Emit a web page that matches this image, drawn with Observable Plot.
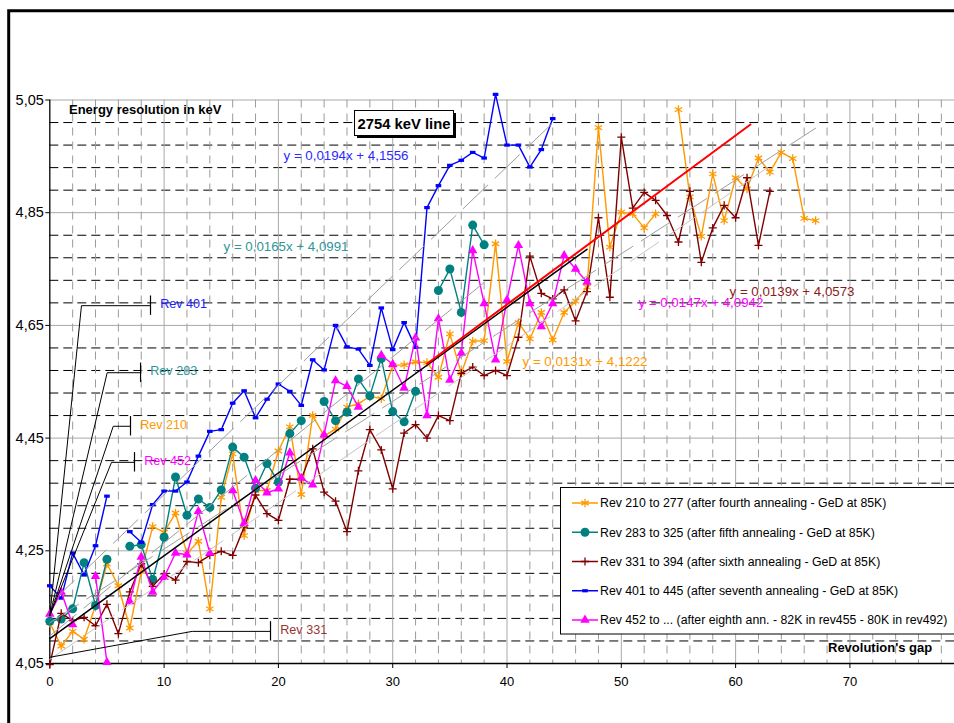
<!DOCTYPE html>
<html>
<head>
<meta charset="utf-8">
<script src="https://cdn.jsdelivr.net/npm/d3@7"></script>
<script src="https://cdn.jsdelivr.net/npm/@observablehq/plot@0.6"></script>
<style>
  html, body { margin: 0; padding: 0; background: #fff; overflow: hidden; }
  #chart { width: 954px; height: 723px; }
</style>
</head>
<body>
<div id="chart"></div>
<script>
// Energy resolution (keV) of the 2754 keV line versus revolution's gap,
// one series per annealing period (index in each array = revolution's gap, null = no measurement).

const seriesNames = [
  "Rev 210 to 277 (after fourth annealing - GeD at 85K)",
  "Rev 283 to 325 (after fifth annealing - GeD at 85K)",
  "Rev 331 to 394 (after sixth annealing - GeD at 85K)",
  "Rev 401 to 445 (after seventh annealing - GeD at 85K)",
  "Rev 452 to ... (after eighth ann. - 82K in rev455 - 80K in rev492)"
];

const rev210 = [
  4.122, 4.081, 4.107, 4.093, 4.153, 4.227, 4.188, 4.113, 4.213, 4.293,
  4.283, 4.317, 4.245, 4.267, 4.147, 4.345, 4.422, 4.277, 4.357, 4.357,
  4.427, 4.470, 4.350, 4.490, 4.454, 4.466, 4.505, 4.511, 4.524, 4.520,
  4.579, 4.580, 4.585, 4.584, 4.558, 4.635, 4.565, 4.622, 4.623, 4.795,
  4.586, 4.655, 4.626, 4.673, 4.624, 4.673, 4.693, 4.718, 5.001, 4.789,
  4.851, 4.848, 4.823, 4.848, null, 5.033, 4.878, 4.808, 4.919, 4.836,
  4.912, 4.892, 4.947, 4.922, 4.957, 4.946, 4.840, 4.836
];

const rev283 = [
  4.125, 4.129, 4.147, 4.229, 4.153, 4.235, null, 4.258, 4.261, 4.199,
  4.274, 4.381, 4.313, 4.342, 4.327, 4.358, 4.434, 4.416, 4.361, 4.405,
  4.372, 4.458, 4.481, null, 4.515, 4.481, 4.496, 4.555, 4.525, 4.591,
  4.497, 4.479, 4.533, null, 4.712, 4.750, 4.673, 4.828, 4.793
];

const rev331 = [
  4.048, 4.139, 4.126, 4.132, 4.117, 4.155, 4.103, 4.177, 4.227, 4.187,
  4.209, 4.198, 4.231, 4.229, 4.242, 4.249, 4.242, 4.292, 4.349, 4.316,
  4.304, 4.377, 4.377, 4.431, 4.354, 4.338, 4.284, 4.392, 4.465, 4.429,
  4.360, 4.459, 4.474, 4.450, 4.490, 4.481, 4.565, 4.576, 4.561, 4.570,
  4.561, 4.629, 4.773, 4.707, 4.697, 4.713, 4.658, 4.710, 4.841, 4.700,
  4.984, 4.858, 4.886, 4.872, 4.845, 4.798, 4.888, 4.762, 4.823, 4.863,
  4.841, 4.912, 4.792, 4.888
];

const rev401 = [
  4.188, 4.166, 4.246, 4.207, 4.259, 4.347, null, 4.284, 4.265, 4.332,
  4.356, 4.356, 4.372, 4.418, 4.462, 4.465, 4.512, 4.534, 4.486, 4.519,
  4.546, 4.533, 4.508, 4.589, 4.571, 4.650, 4.612, 4.608, 4.579, 4.681,
  4.607, 4.655, 4.611, 4.859, 4.898, 4.934, 4.943, 4.957, 4.947, 5.060,
  4.970, 4.970, 4.931, 4.962, 5.017
];

const rev452 = [
  4.138, 4.177, 4.119, null, 4.205, 4.052, null, 4.160, 4.239, 4.177,
  4.203, 4.246, 4.243, 4.320, 4.246, null, 4.357, 4.299, 4.375, 4.353,
  4.360, 4.424, 4.379, 4.367, 4.456, 4.552, 4.542, 4.505, null, 4.597,
  4.581, 4.539, 4.628, 4.490, 4.662, 4.553, 4.601, 4.783, 4.689, 4.589,
  4.695, 4.792, 4.689, 4.648, 4.689, 4.774, 4.750, 4.727
];

// Linear fits y = slope * x + intercept, as printed next to each series
const fitSlopes     = [0.0131, 0.0165, 0.0139, 0.0194, 0.0147];
const fitIntercepts = [4.1222, 4.0991, 4.0573, 4.1556, 4.0942];
const fitLastGap    = [67, 38, 63, 44, 47];

// Projection line drawn in red beyond the last period
const projSlope = 0.0150;
const projIntercept = 4.087;
const projFrom = 33;
const projTo = 61.3;

const gapTicks = [0, 10, 20, 30, 40, 50, 60, 70];
const resTicks = [4.05, 4.25, 4.45, 4.65, 4.85, 5.05];

const calloutLabels = ["Rev 401", "Rev 283", "Rev 210", "Rev 452", "Rev 331"];

// ---------------------------------------------------------------- styling
const seriesValues = [rev210, rev283, rev331, rev401, rev452];
const colors = ["#ff9900", "#008080", "#800000", "#0000ff", "#ff00ff"];
const fitLabelColors = ["#ff9900", "#2e9696", "#8b1a1a", "#2a2aff", "#ff00ff"];

// small flat rectangle marker for the 401–445 series
const dashMarker = {
  draw(context) {
    context.moveTo(-2.8, -1.6);
    context.lineTo(2.8, -1.6);
    context.lineTo(2.8, 1.6);
    context.lineTo(-2.8, 1.6);
    context.closePath();
  }
};
const markerSpecs = [
  {symbol: "asterisk", r: 4, fill: "none", stroke: colors[0], strokeWidth: 1.3},
  {symbol: "circle", r: 4.5, fill: colors[1], stroke: "none"},
  {symbol: "plus", r: 2.7, fill: "none", stroke: colors[2], strokeWidth: 1.3},
  {symbol: dashMarker, r: 2, fill: colors[3], stroke: "none"},
  {symbol: "triangle", r: 3.5, fill: colors[4], stroke: "none"}
];
const legendSymbols = [d3.symbolAsterisk, d3.symbolCircle, d3.symbolPlus, dashMarker, d3.symbolTriangle];

// where the fit equations are written (data units)
const fitLabelAt = [[41.36, 4.586], [15.20, 4.790], [59.47, 4.710], [20.45, 4.9515], [51.50, 4.691]];

// callout leaders: anchor, elbow, end of the horizontal arm (data units)
const calloutPaths = [
  [[0, 4.135], [2.77, 4.685], [8.81, 4.685]],
  [[0, 4.135], [5.02, 4.566], [7.94, 4.566]],
  [[0, 4.135], [5.55, 4.471], [7.06, 4.471]],
  [[0, 4.135], [5.40, 4.407], [7.41, 4.407]],
  [[0, 4.061], [12.46, 4.107], [19.31, 4.107]]
];
const calloutColors = ["#2020ff", "#2e9696", "#ff9900", "#ff00ff", "#993333"];

const minorGapGrid = d3.range(2, 80, 2).filter(v => v % 10 !== 0);
const majorGapGrid = d3.range(10, 80, 10);
const minorResGrid = d3.range(0, 26).filter(i => i % 5 !== 0).map(i => 4.05 + 0.04 * i);
const majorResGrid = d3.range(1, 6).map(i => 4.05 + 0.2 * i);

const fmt = v => v.toFixed(2).replace(".", ",");
const fmt4 = v => v.toFixed(4).replace(".", ",");

const rowsOf = vals => vals.map((v, i) => ({gap: i, res: v}));

const marks = [
  Plot.ruleY(minorResGrid, {stroke: "#000", strokeWidth: 1, strokeDasharray: "9,5"}),
  Plot.ruleX(minorGapGrid, {stroke: "#9a9a9a", strokeWidth: 1, strokeDasharray: "8,6"}),
  Plot.ruleX(majorGapGrid, {stroke: "#a8a8a8", strokeWidth: 1}),
  Plot.ruleY(majorResGrid, {stroke: "#a8a8a8", strokeWidth: 1}),
  Plot.ruleX([0], {stroke: "#000", strokeWidth: 1.3}),
  Plot.ruleY([4.05], {stroke: "#000", strokeWidth: 1.5})
];

// data series: line then markers, in plotting order
seriesValues.forEach((vals, k) => {
  const rows = rowsOf(vals);
  marks.push(Plot.line(rows, {x: "gap", y: "res", stroke: colors[k], strokeWidth: 1.4}));
  marks.push(Plot.dot(rows, {x: "gap", y: "res", ...markerSpecs[k]}));
});

// trend lines
fitSlopes.forEach((m, k) => {
  const b = fitIntercepts[k];
  const seg = [{gap: 0, res: b}, {gap: fitLastGap[k], res: b + m * fitLastGap[k]}];
  const isLast = k === 4;
  marks.push(Plot.line(seg, {
    x: "gap", y: "res",
    stroke: isLast ? "#000" : (k === 2 ? "#c4c4c4" : "#9e9e9e"),
    strokeWidth: isLast ? 1.5 : 1,
    strokeDasharray: isLast ? null : "34,10"
  }));
});
marks.push(Plot.line(
  [{gap: projFrom, res: projIntercept + projSlope * projFrom}, {gap: projTo, res: projIntercept + projSlope * projTo}],
  {x: "gap", y: "res", stroke: "#ff0000", strokeWidth: 2}
));

// fit equations
fitSlopes.forEach((m, k) => {
  marks.push(Plot.text([`y = ${fmt4(m)}x + ${fmt4(fitIntercepts[k])}`], {
    x: fitLabelAt[k][0], y: fitLabelAt[k][1], text: d => d,
    textAnchor: "start", fill: fitLabelColors[k], fontSize: 13.3
  }));
});

// callouts naming the first revolution of each period
calloutPaths.forEach((path, k) => {
  const pts = path.map(([gap, res]) => ({gap, res}));
  const end = pts[pts.length - 1];
  marks.push(Plot.line(pts, {x: "gap", y: "res", stroke: "#000", strokeWidth: 1}));
  marks.push(Plot.ruleX([end.gap], {y1: end.res - 0.0172, y2: end.res + 0.0172, stroke: "#000", strokeWidth: 1.2}));
  marks.push(Plot.text([calloutLabels[k]], {
    x: end.gap + 0.85, y: end.res + 0.003, text: d => d,
    textAnchor: "start", fill: calloutColors[k], fontSize: 12.6
  }));
});

const svg = Plot.plot({
  width: 954,
  height: 723,
  marginLeft: 49.3,
  marginRight: 0,
  marginTop: 99.5,
  marginBottom: 60,
  style: {fontFamily: '"Liberation Sans", Arial, sans-serif', fontSize: "13px", background: "#fff", color: "#000"},
  x: {domain: [0, 79.15], ticks: gapTicks, tickSize: 5, tickPadding: 8, label: null},
  y: {domain: [4.05, 5.05], ticks: resTicks, tickSize: 4, tickPadding: 2, tickFormat: fmt, label: null},
  marks
});
document.getElementById("chart").appendChild(svg);

// chart furniture: outer frame, titles, legend
const s = d3.select(svg);
const font = '"Liberation Sans", Arial, sans-serif';

// slightly larger figures on the resolution axis
s.selectAll('[aria-label^="y-axis"]').attr("font-size", 14.5);

s.append("path")
  .attr("d", "M8.7,730V10.7H960")
  .attr("fill", "none").attr("stroke", "#000").attr("stroke-width", 3);

s.append("text")
  .attr("x", 69).attr("y", 114).attr("text-anchor", "start")
  .attr("font-family", font).attr("font-size", 13).attr("font-weight", "bold")
  .text("Energy resolution in keV");

s.append("text")
  .attr("x", 828).attr("y", 652).attr("text-anchor", "start")
  .attr("font-family", font).attr("font-size", 13).attr("font-weight", "bold")
  .text("Revolution's gap");

const tb = s.append("g");
tb.append("rect").attr("x", 357).attr("y", 113).attr("width", 99).attr("height", 25).attr("fill", "#000");
tb.append("rect").attr("x", 354.5).attr("y", 110.5).attr("width", 99).attr("height", 25)
  .attr("fill", "#fff").attr("stroke", "#000").attr("stroke-width", 1);
tb.append("text").attr("x", 404).attr("y", 128.5).attr("text-anchor", "middle")
  .attr("font-family", font).attr("font-size", 14.8).attr("font-weight", "bold")
  .text("2754 keV line");

const lg = s.append("g");
lg.append("rect").attr("x", 560.5).attr("y", 487.5).attr("width", 400).attr("height", 146.5)
  .attr("fill", "#fff").attr("stroke", "#000").attr("stroke-width", 1);
seriesNames.forEach((name, k) => {
  const cy = 503 + k * 29.25;
  lg.append("line").attr("x1", 572).attr("x2", 598).attr("y1", cy).attr("y2", cy)
    .attr("stroke", colors[k]).attr("stroke-width", 1.5);
  const spec = markerSpecs[k];
  lg.append("path")
    .attr("transform", `translate(585,${cy})`)
    .attr("d", d3.symbol(legendSymbols[k], Math.PI * spec.r * spec.r)())
    .attr("fill", spec.fill).attr("stroke", spec.stroke)
    .attr("stroke-width", spec.strokeWidth || 0);
  lg.append("text").attr("x", 600).attr("y", cy).attr("dy", "0.35em").attr("text-anchor", "start")
    .attr("font-family", font).attr("font-size", 12.3).attr("fill", "#000")
    .text(name);
});
</script>
</body>
</html>
